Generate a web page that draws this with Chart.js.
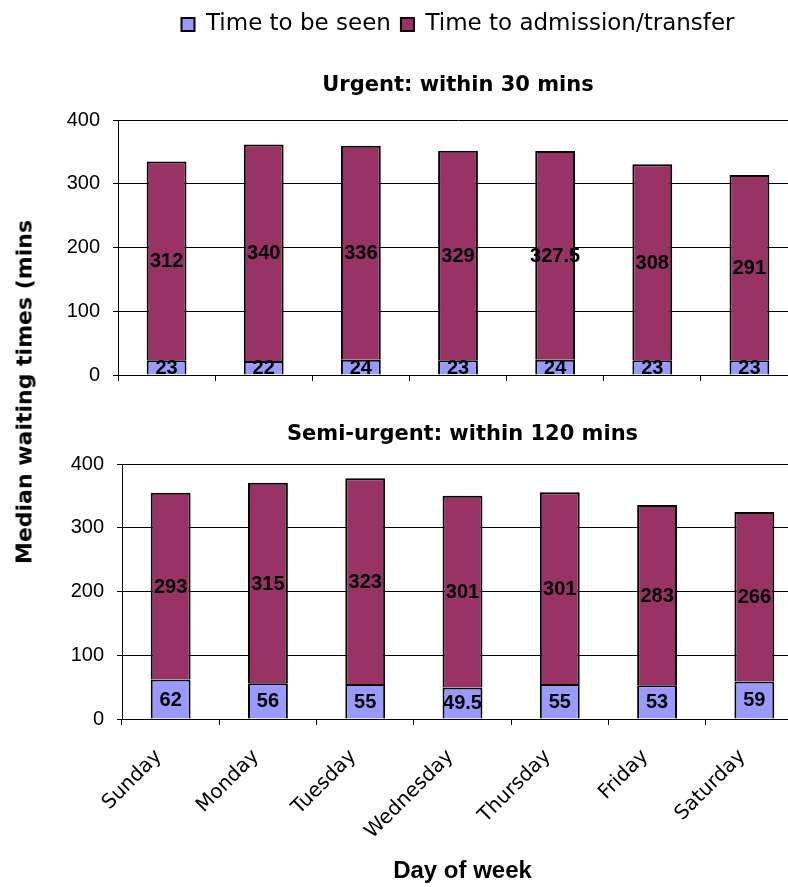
<!DOCTYPE html>
<html>
<head>
<meta charset="utf-8">
<script src="https://cdn.jsdelivr.net/npm/chart.js@4/dist/chart.umd.min.js"></script>
<style>
  html, body { margin: 0; padding: 0; background: #fff; overflow: hidden; }
  body { width: 788px; height: 887px; position: relative; }
  #urgent { position: absolute; left: 0; top: 0; }
  #semi { position: absolute; left: 0; top: 385px; }
  #ytitle {
    position: absolute; left: 24px; top: 392px;
    transform: translate(-50%, -50%) rotate(-90deg);
    font: bold 22px "DejaVu Sans", Verdana, sans-serif;
    white-space: nowrap; color: #000;
  }
</style>
</head>
<body>
<canvas id="urgent" width="798" height="400"></canvas>
<canvas id="semi" width="803" height="502"></canvas>
<div id="ytitle">Median waiting times (mins</div>
<script>
// Days of the week (categories)
const days = ['Sunday', 'Monday', 'Tuesday', 'Wednesday', 'Thursday', 'Friday', 'Saturday'];
const seriesNames = ['Time to be seen', 'Time to admission/transfer'];

// Urgent triage category: median minutes
const urgentSeen = [23, 22, 24, 23, 24, 23, 23];
const urgentAdmit = [312, 340, 336, 329, 327.5, 308, 291];

// Semi-urgent triage category: median minutes
const semiSeen = [62, 56, 55, 49.5, 55, 53, 59];
const semiAdmit = [293, 315, 323, 301, 301, 283, 266];

const yTicks = [0, 100, 200, 300, 400];

const SEEN_COLOR = '#9999FF';
const ADMIT_COLOR = '#993366';

Chart.defaults.font.family = '"Liberation Sans", Arial, sans-serif';
Chart.defaults.color = '#000';

// Writes each segment's value in the middle of its bar segment
const valueLabels = {
  id: 'valueLabels',
  afterDatasetsDraw(chart) {
    const ctx = chart.ctx;
    ctx.save();
    ctx.font = 'bold 20px "Liberation Sans", Arial, sans-serif';
    ctx.fillStyle = '#000';
    ctx.textAlign = 'center';
    ctx.textBaseline = 'middle';
    chart.data.datasets.forEach((ds, di) => {
      const meta = chart.getDatasetMeta(di);
      meta.data.forEach((bar, i) => {
        const p = bar.getProps(['x', 'y', 'base'], true);
        ctx.fillText(String(ds.data[i]), p.x, (p.y + p.base) / 2 + 1);
      });
    });
    ctx.restore();
  }
};

function makeDatasets(seen, admit) {
  const common = { borderColor: '#000', borderWidth: 2,
                   categoryPercentage: 1, barPercentage: 0.41 };
  return [
    Object.assign({ label: seriesNames[0], data: seen, backgroundColor: SEEN_COLOR }, common),
    Object.assign({ label: seriesNames[1], data: admit, backgroundColor: ADMIT_COLOR }, common)
  ];
}

function yScale(axisWidth) {
  return {
    stacked: true, min: 0, max: 400,
    afterBuildTicks: s => { s.ticks = yTicks.map(v => ({ value: v })); },
    afterFit: s => { s.width = axisWidth; },
    grid: { color: '#000', lineWidth: 1, drawTicks: true, tickLength: 5 },
    border: { color: '#000', width: 1 },
    ticks: { padding: 13, font: { size: 20 }, color: '#000' }
  };
}

// Top panel: urgent patients
new Chart(document.getElementById('urgent'), {
  type: 'bar',
  data: { labels: days, datasets: makeDatasets(urgentSeen, urgentAdmit) },
  plugins: [valueLabels],
  options: {
    responsive: false, animation: false, devicePixelRatio: 1,
    layout: { padding: { top: 3 } },
    plugins: {
      legend: {
        position: 'top', fullSize: false, weight: 3000,
        labels: { font: { family: '"DejaVu Sans", Verdana, sans-serif', size: 23 },
                  boxWidth: 13, boxHeight: 13, padding: 10, color: '#000' }
      },
      title: {
        display: true, text: 'Urgent: within 30 mins', fullSize: false,
        font: { family: '"DejaVu Sans", Verdana, sans-serif', size: 21, weight: 'bold' },
        color: '#000', padding: { top: 27, bottom: 22 }
      },
      tooltip: { enabled: false }
    },
    scales: {
      x: {
        stacked: true,
        afterFit: s => { s.height = 10; },
        grid: { drawOnChartArea: false, drawTicks: true, tickLength: 6, color: '#000' },
        border: { color: '#000', width: 1 },
        ticks: { display: false }
      },
      y: yScale(118)
    }
  }
});

// Bottom panel: semi-urgent patients
new Chart(document.getElementById('semi'), {
  type: 'bar',
  data: { labels: days, datasets: makeDatasets(semiSeen, semiAdmit) },
  plugins: [valueLabels],
  options: {
    responsive: false, animation: false, devicePixelRatio: 1,
    layout: { padding: 0 },
    plugins: {
      legend: { display: false },
      title: {
        display: true, text: 'Semi-urgent: within 120 mins', fullSize: false,
        font: { family: '"DejaVu Sans", Verdana, sans-serif', size: 21, weight: 'bold' },
        color: '#000', padding: { top: 37, bottom: 17 }
      },
      tooltip: { enabled: false }
    },
    scales: {
      x: {
        stacked: true,
        afterFit: s => { s.height = 168; },
        grid: { drawOnChartArea: false, drawTicks: true, tickLength: 6, color: '#000' },
        border: { color: '#000', width: 1 },
        ticks: { minRotation: 45, maxRotation: 45, autoSkip: false, padding: 20,
                 labelOffset: -12,
                 font: { family: '"DejaVu Sans", Verdana, sans-serif', size: 20 }, color: '#000' },
        title: {
          display: true, text: 'Day of week', color: '#000',
          font: { size: 24, weight: 'bold' }, padding: { top: 4, bottom: 1 }
        }
      },
      y: yScale(122)
    }
  }
});
</script>
</body>
</html>
